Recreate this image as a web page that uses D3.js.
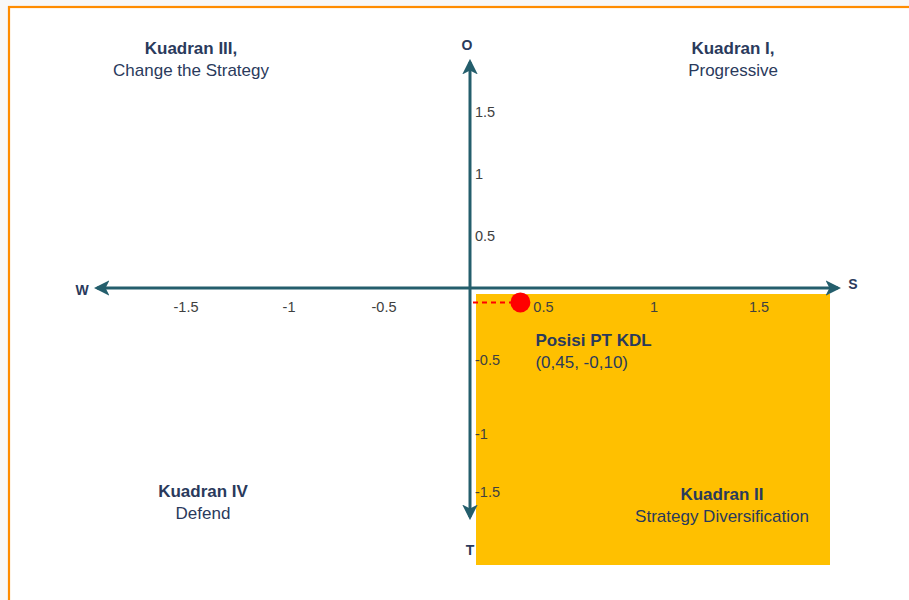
<!DOCTYPE html>
<html>
<head>
<meta charset="utf-8">
<script src="https://cdn.jsdelivr.net/npm/d3@7/dist/d3.min.js"></script>
<style>
  html, body { margin: 0; padding: 0; background: #f8f8f8; }
  svg { display: block; }
  text { font-family: "Liberation Sans", Arial, sans-serif; }
</style>
</head>
<body>
<svg id="chart" width="909" height="600"></svg>
<script>
// ---- data ----
const xTicks = [-1.5, -1, -0.5, 0.5, 1, 1.5];
const yTicks = [1.5, 1, 0.5, -0.5, -1, -1.5];
const axisLabels = ["O", "S", "T", "W"];           // top, right, bottom, left
const quadrantTitles = ["Kuadran I,", "Kuadran II", "Kuadran III,", "Kuadran IV"];
const quadrantSubtitles = ["Progressive", "Strategy Diversification", "Change the Strategy", "Defend"];
const positionName = ["Posisi PT KDL"];
const positionX = [0.45];
const positionY = [-0.10];

// ---- layout ----
const W = 909, H = 600;
const svg = d3.select("#chart");
const navy = "#2a3a5c";
const teal = "#245e6c";

// scales (tick positions as in the drawing)
const x = d3.scaleLinear()
  .domain([-1.5, -1, -0.5, 0, 0.5, 1, 1.5])
  .range([186, 289, 384, 470, 526, 654, 759]);
const y = d3.scaleLinear()
  .domain([1.5, 1, 0.5, 0, -0.5, -1, -1.5])
  .range([112, 174, 236, 288, 360, 434, 492]);

const x0 = x(0), y0 = y(0);
const axisLeft = 97, axisRight = 838, axisTop = 62, axisBottom = 517;

// frame
svg.append("rect").attr("x", 9).attr("y", 7).attr("width", W).attr("height", H)
  .attr("fill", "#ffffff").attr("stroke", "#ff8c00").attr("stroke-width", 2.2);

// quadrant II highlight
svg.append("rect")
  .attr("x", x0 + 6).attr("y", y0 + 6)
  .attr("width", 830 - (x0 + 6)).attr("height", 565 - (y0 + 6))
  .attr("fill", "#ffc000");

// arrow markers
const defs = svg.append("defs");
defs.append("marker").attr("id", "arrow")
  .attr("viewBox", "0 0 10 10").attr("refX", 8).attr("refY", 5)
  .attr("markerWidth", 5.2).attr("markerHeight", 5.2)
  .attr("markerUnits", "strokeWidth")
  .attr("orient", "auto")
  .append("path").attr("d", "M0,0 L10,5 L0,10 L2.5,5 Z").attr("fill", teal);

// axes
[[axisRight, y0], [axisLeft, y0], [x0, axisTop], [x0, axisBottom]].forEach(([ex, ey]) => {
  svg.append("line").attr("x1", x0).attr("y1", y0).attr("x2", ex).attr("y2", ey)
    .attr("stroke", teal).attr("stroke-width", 3).attr("marker-end", "url(#arrow)");
});

// axis end labels
const endPos = [[467, 50], [853, 289], [470, 555], [82, 295]];
axisLabels.forEach((t, i) => {
  svg.append("text").attr("x", endPos[i][0]).attr("y", endPos[i][1])
    .attr("text-anchor", "middle")
    .attr("font-size", 14).attr("font-weight", "bold").attr("fill", navy)
    .text(t);
});

// position marker
const px = x(positionX[0]), py = y(positionY[0]);

// tick labels (nudged away from the marker when they would collide)
svg.append("g").selectAll("text").data(xTicks).join("text")
  .attr("x", d => Math.abs(x(d) - px) < 22 ? px + 23 : x(d)).attr("y", y0 + 24)
  .attr("text-anchor", "middle").attr("font-size", 14.5).attr("fill", "#404040")
  .text(d => d);
svg.append("g").selectAll("text").data(yTicks).join("text")
  .attr("x", x0 + 5).attr("y", d => y(d) + 5)
  .attr("text-anchor", "start").attr("font-size", 14.5).attr("fill", "#404040")
  .text(d => d);

svg.append("line").attr("x1", x0 + 3).attr("y1", py).attr("x2", px).attr("y2", py)
  .attr("stroke", "#ff0000").attr("stroke-width", 2).attr("stroke-dasharray", "5,4");
svg.append("line").attr("x1", px).attr("y1", y0 + 5).attr("x2", px).attr("y2", py)
  .attr("stroke", "#ff0000").attr("stroke-width", 2).attr("stroke-dasharray", "5,4");
svg.append("circle").attr("cx", px).attr("cy", py).attr("r", 10).attr("fill", "#ff0000");

const fmt = v => String(v.toFixed(2)).replace(".", ",");
svg.append("text").attr("x", px + 15).attr("y", py + 44)
  .attr("font-size", 17).attr("font-weight", "bold").attr("fill", navy)
  .text(positionName[0]);
svg.append("text").attr("x", px + 15).attr("y", py + 66)
  .attr("font-size", 17).attr("fill", navy)
  .text("(" + fmt(positionX[0]) + ", " + fmt(positionY[0]) + ")");

// quadrant labels
const qPos = [[733, 54], [722, 500], [191, 54], [203, 497]];
quadrantTitles.forEach((t, i) => {
  const g = svg.append("g").attr("transform", `translate(${qPos[i][0]},${qPos[i][1]})`);
  g.append("text").attr("text-anchor", "middle").attr("font-size", 17)
    .attr("font-weight", "bold").attr("fill", navy).text(t);
  g.append("text").attr("y", 22).attr("text-anchor", "middle").attr("font-size", 17)
    .attr("fill", navy).text(quadrantSubtitles[i]);
});
</script>
</body>
</html>
